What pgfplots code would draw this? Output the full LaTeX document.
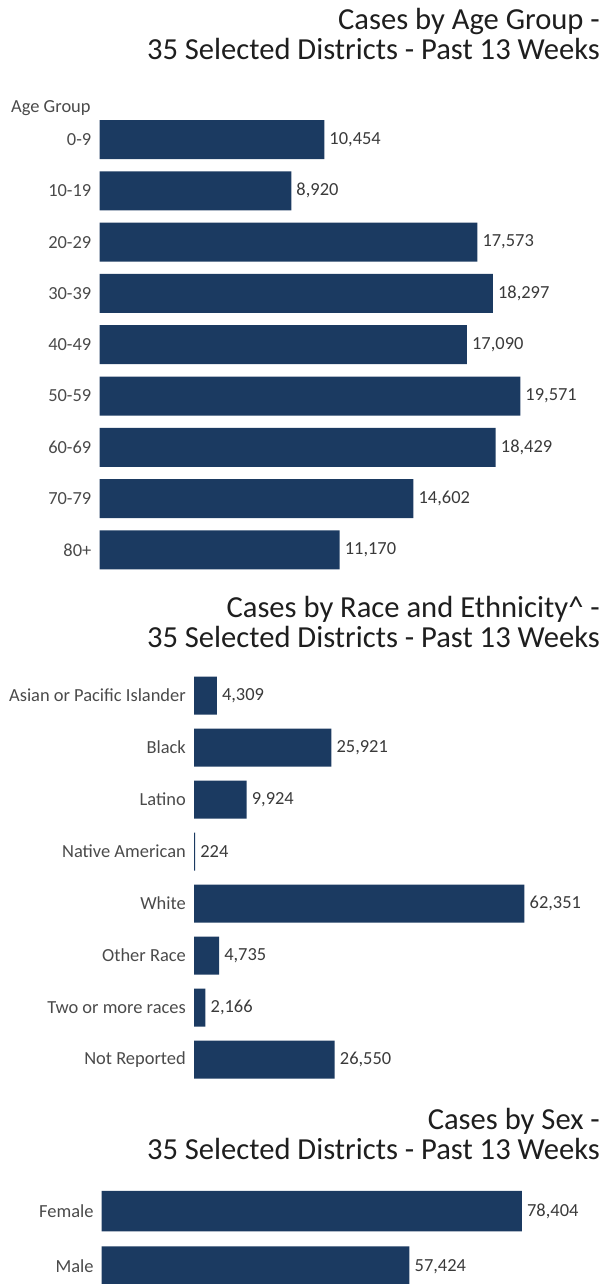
\documentclass[border=0pt]{standalone}
\usepackage{fontspec}
\setmainfont{Carlito}
\usepackage{pgfplots}
\pgfplotsset{compat=1.18}
\definecolor{barblue}{HTML}{1B3A61}
\definecolor{ticktxt}{HTML}{4A4A4A}
\definecolor{valtxt}{HTML}{3A3A3A}
\definecolor{titletxt}{HTML}{1E1E1E}
\pgfplotsset{
  hbar/.style={
    xbar, scale only axis, clip=false,
    axis x line=none, axis y line=left,
    y axis line style={draw=none,-},
    y dir=reverse, xmin=0,
    ytick=data, major tick length=0pt,
    yticklabel style={font=\fontsize{18.5}{18.5}\selectfont, color=ticktxt, inner sep=0pt, xshift=-8bp},
    point meta=x,
    nodes near coords={\pgfmathprintnumber[fixed,precision=0,1000 sep={,},assume math mode=true]{\pgfplotspointmeta}},
    every node near coord/.append style={font=\fontsize{18.5}{18.5}\selectfont, color=valtxt, inner sep=0pt, xshift=5bp, anchor=west},
  },
  hbarplot/.style={fill=barblue, draw=none},
}
\begin{document}
\begin{tikzpicture}
\useasboundingbox (0,0) rectangle (603bp,-1284bp);
\clip (0,0) rectangle (603bp,-1284bp);
% Titles
\begin{scope}[every node/.style={font=\fontsize{30.7}{30.7}\selectfont, color=titletxt, inner sep=0pt, anchor=base east}]
\node at (600bp,-29bp) {Cases by Age Group -};
\node at (600bp,-59bp) {35 Selected Districts - Past 13 Weeks};
\node at (600bp,-617bp) {Cases by Race and Ethnicity\textasciicircum{} -};
\node at (600bp,-647bp) {35 Selected Districts - Past 13 Weeks};
\node at (600bp,-1129bp) {Cases by Sex -};
\node at (600bp,-1159bp) {35 Selected Districts - Past 13 Weeks};
\end{scope}
\node[font=\fontsize{18.5}{18.5}\selectfont, color=ticktxt, inner sep=0pt, anchor=west] at (11bp,-108bp) {Age Group};
% Age group
\begin{axis}[hbar, at={(99.5bp,-113.85bp)}, anchor=north west,
  width=473bp, height=461.7bp, xmax=22000, ymin=-0.5, ymax=8.5,
  bar width=39bp,
  yticklabels={0-9,10-19,20-29,30-39,40-49,50-59,60-69,70-79,80+}]
\addplot[hbarplot] coordinates {(10454,0) (8920,1) (17573,2) (18297,3) (17090,4) (19571,5) (18429,6) (14602,7) (11170,8)};
\end{axis}
% Race
\begin{axis}[hbar, at={(194bp,-669.5bp)}, anchor=north west,
  width=371bp, height=416bp, xmax=70000, ymin=-0.5, ymax=7.5,
  bar width=38bp,
  yticklabels={Asian or Pacific Islander,Black,Latino,Native American,White,Other Race,Two or more races,Not Reported}]
\addplot[hbarplot] coordinates {(4309,0) (25921,1) (9924,2) (224,3) (62351,4) (4735,5) (2166,6) (26550,7)};
\end{axis}
% Sex
\begin{axis}[hbar, at={(101.7bp,-1183.25bp)}, anchor=north west,
  width=482.4bp, height=111bp, xmax=90000, ymin=-0.5, ymax=1.5,
  bar width=40.5bp,
  yticklabels={Female,Male}]
\addplot[hbarplot] coordinates {(78404,0) (57424,1)};
\end{axis}
\end{tikzpicture}
\end{document}
